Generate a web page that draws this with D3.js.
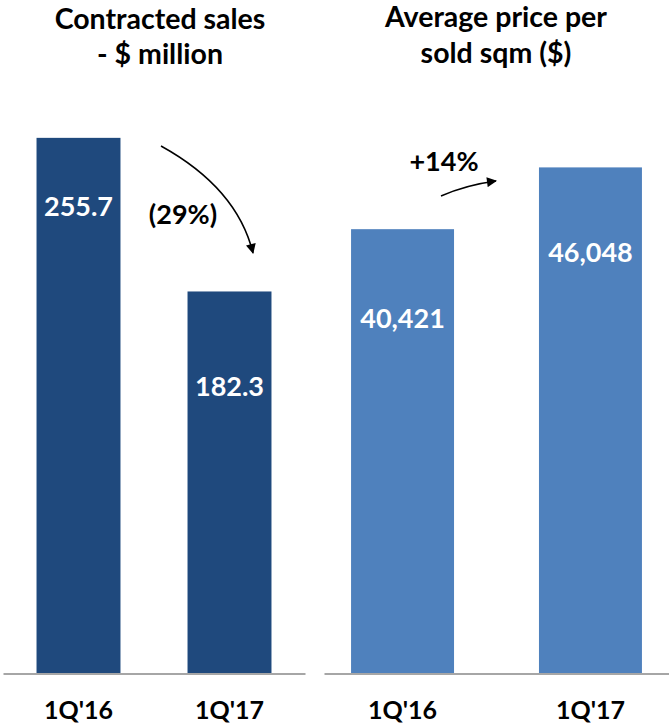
<!DOCTYPE html>
<html>
<head>
<meta charset="utf-8">
<script src="https://cdn.jsdelivr.net/npm/d3@7"></script>
<style>
  body { margin: 0; background: #fff; }
  svg text { font-family: Lato, "Open Sans", sans-serif; font-weight: bold; }
</style>
</head>
<body>
<svg id="chart" width="669" height="724"></svg>
<script>
// chart values
const periods = ["1Q'16", "1Q'17"];
const salesValues = [255.7, 182.3];
const priceValues = [40421, 46048];
const salesTitle = ["Contracted sales", "- $ million"];
const priceTitle = ["Average price per", "sold sqm ($)"];
const salesChange = "(29%)";
const priceChange = "+14%";

const BASE = 673;
const DARK = "#1f497d";
const LIGHT = "#4f81bd";
// how far below the top of each bar its value sits (baseline)
const salesDrop = [78, 105];
const priceDrop = [99, 95];

const svg = d3.select("#chart");

const defs = svg.append("defs");
defs.append("marker")
  .attr("id", "head")
  .attr("viewBox", "0 0 10 10")
  .attr("refX", 9).attr("refY", 5)
  .attr("markerWidth", 11).attr("markerHeight", 10)
  .attr("markerUnits", "userSpaceOnUse")
  .attr("orient", "auto")
  .append("path")
  .attr("d", "M0,0L10,5L0,10z")
  .attr("fill", "#000");

const xLeft = d3.scaleBand().domain(periods).range([3, 305])
  .paddingInner(0.444).paddingOuter(0.222);
const xRight = d3.scaleBand().domain(periods).range([324, 669])
  .paddingInner(0.452).paddingOuter(0.144);
const yLeft = d3.scaleLinear().domain([0, 280]).range([BASE, 87]);
const yRight = d3.scaleLinear().domain([0, 50000]).range([BASE, 124]);

function panel(x, y, values, color, fmt, drops, title, cx, titleY) {
  const g = svg.append("g");

  g.selectAll("rect")
    .data(values)
    .join("rect")
    .attr("x", (d, i) => x(periods[i]))
    .attr("width", x.bandwidth())
    .attr("y", d => y(d))
    .attr("height", d => y(0) - y(d))
    .attr("fill", color);

  g.selectAll(".val")
    .data(values)
    .join("text")
    .attr("class", "val")
    .attr("x", (d, i) => x(periods[i]) + x.bandwidth() / 2)
    .attr("y", (d, i) => y(d) + drops[i])
    .attr("text-anchor", "middle")
    .attr("font-size", 27)
    .attr("fill", "#fff")
    .text(d => fmt(d));

  const axis = g.append("g")
    .attr("transform", `translate(0,${BASE + 0.5})`)
    .call(d3.axisBottom(x).tickSize(0).tickSizeOuter(0).tickPadding(28));
  axis.select(".domain").attr("stroke", "#a6a6a6").attr("stroke-width", 2);
  axis.selectAll("text")
    .attr("font-size", 25)
    .attr("fill", "#000");

  g.selectAll(".title")
    .data(title)
    .join("text")
    .attr("class", "title")
    .attr("x", cx)
    .attr("y", (d, i) => titleY[i])
    .attr("text-anchor", "middle")
    .attr("font-size", 28.5)
    .attr("fill", "#000")
    .text(d => d);
}

panel(xLeft, yLeft, salesValues, DARK, d3.format(".1f"), salesDrop,
  salesTitle, 160, [29, 64]);
panel(xRight, yRight, priceValues, LIGHT, d3.format(","), priceDrop,
  priceTitle, 496, [27, 63]);

// change annotations
svg.append("path")
  .attr("d", "M161,146Q237,188 253,253")
  .attr("fill", "none")
  .attr("stroke", "#000")
  .attr("stroke-width", 1.5)
  .attr("marker-end", "url(#head)");
svg.append("text")
  .attr("x", 183).attr("y", 224)
  .attr("text-anchor", "middle")
  .attr("font-size", 27)
  .text(salesChange);

svg.append("path")
  .attr("d", "M441,196Q466,185 496,181")
  .attr("fill", "none")
  .attr("stroke", "#000")
  .attr("stroke-width", 1.5)
  .attr("marker-end", "url(#head)");
svg.append("text")
  .attr("x", 444).attr("y", 171)
  .attr("text-anchor", "middle")
  .attr("font-size", 27)
  .text(priceChange);
</script>
</body>
</html>
